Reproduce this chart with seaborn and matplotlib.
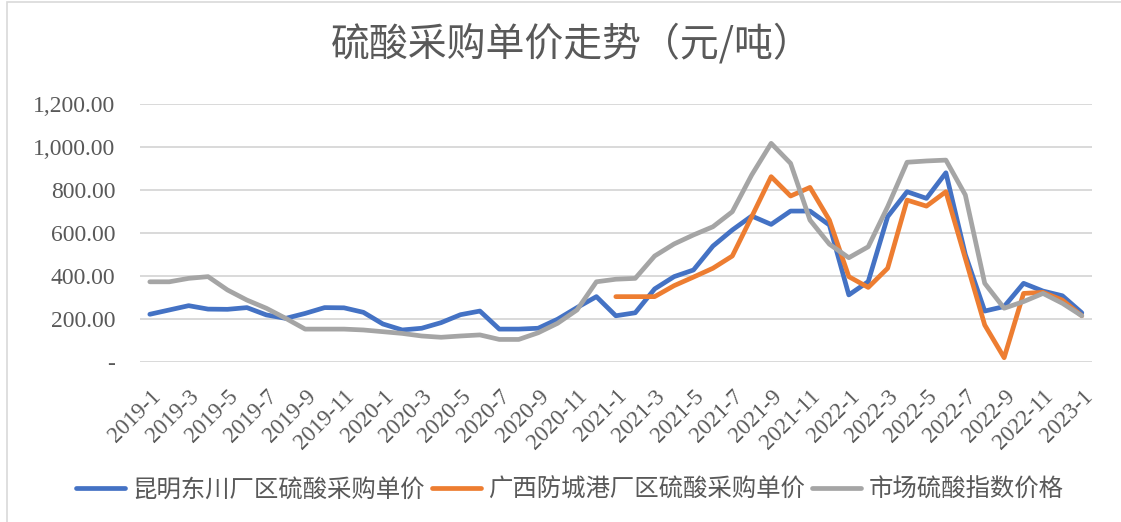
import numpy as np
import pandas as pd
import seaborn as sns
import matplotlib.pyplot as plt
from matplotlib.patches import Rectangle
from matplotlib.ticker import FuncFormatter

# 月份标签 2019-1 ... 2023-1
months = [f"{y}-{m}" for y in range(2019, 2024) for m in range(1, 13)][:49]

kunming = [222, 242, 262, 246, 245, 253, 219, 203, 226, 253, 252, 231, 177, 149, 157, 183,
           220, 237, 153, 153, 157, 199, 253, 304, 215, 229, 340, 397, 428, 539, 614, 679,
           640, 702, 702, 637, 312, 374, 676, 792, 761, 880, 500, 237, 258, 366, 330, 308, 229]

guangxi = [np.nan] * 24 + [304, 304, 304, 355, 395, 436, 493, 676, 862, 772, 812, 660,
                           397, 347, 436, 753, 725, 792, 482, 172, 20, 319, 324, 288, 215]

market = [373, 373, 389, 397, 335, 288, 250, 203, 153, 153, 153, 149, 141, 133, 121, 115,
          121, 126, 105, 105, 136, 180, 242, 373, 385, 389, 493, 549, 591, 629, 699, 870,
          1017, 924, 660, 548, 485, 536, 722, 929, 935, 939, 777, 366, 250, 281, 319, 273, 215]

series_names = ["昆明东川厂区硫酸采购单价", "广西防城港厂区硫酸采购单价", "市场硫酸指数价格"]
colors = ["#4472C4", "#ED7D31", "#A5A5A5"]

df = pd.DataFrame({
    "idx": list(range(len(months))) * 3,
    "price": kunming + guangxi + market,
    "series": [s for s in series_names for _ in months],
})
df = df.dropna()

sns.set_theme(style="white")
plt.rcParams["font.family"] = ["Liberation Serif", "Noto Sans CJK SC", "DejaVu Sans"]
txt = "#595959"

fig = plt.figure(figsize=(11.21, 5.22), dpi=100)
ax = fig.add_axes([0.125, 0.3065, 0.8487, 0.4943])

sns.lineplot(data=df, x="idx", y="price", hue="series", hue_order=series_names,
             palette=colors, linewidth=3.4, ax=ax, sort=False)
for ln in ax.lines:
    ln.set_solid_capstyle("round")
    ln.set_solid_joinstyle("round")

ax.set_xlim(-0.5, len(months) - 0.5)
ax.set_ylim(0, 1200)
ax.set_yticks(range(0, 1201, 200))
ax.yaxis.set_major_formatter(FuncFormatter(lambda v, p: "-" if v == 0 else f"{v:,.2f}"))
ax.grid(axis="y", color="#d9d9d9", linewidth=1.4)
ax.set_axisbelow(True)
for s in ax.spines.values():
    s.set_visible(False)

ax.set_xticks(range(0, len(months), 2))
ax.set_xticklabels(months[::2], rotation=45, ha="right", rotation_mode="anchor")
ax.tick_params(axis="x", length=0, pad=17, labelsize=16.5, labelcolor=txt)
ax.tick_params(axis="y", length=0, pad=18, labelsize=17, labelcolor=txt)
ax.set_xlabel("")
ax.set_ylabel("")

fig.suptitle("硫酸采购单价走势（元/吨）", x=0.51, y=0.955, fontsize=28, color=txt,
             family=["Noto Sans CJK SC", "DejaVu Sans"])

handles, labels = ax.get_legend_handles_labels()
ax.legend_.remove()
fig.legend(handles, labels, loc="center", bbox_to_anchor=(0.508, 0.062), ncol=3,
           frameon=False, handlelength=2.0, handletextpad=0.3, columnspacing=0.3,
           prop={"family": ["Noto Sans CJK SC"], "size": 17.6}, labelcolor=txt)

# 图表外框
fig.patches.append(Rectangle((7 / 1121, -0.1), 1.2, 1.1 - 2 / 522, transform=fig.transFigure,
                             fill=False, edgecolor="#d9d9d9", linewidth=1.2))

fig.savefig("out.png", dpi=100)
